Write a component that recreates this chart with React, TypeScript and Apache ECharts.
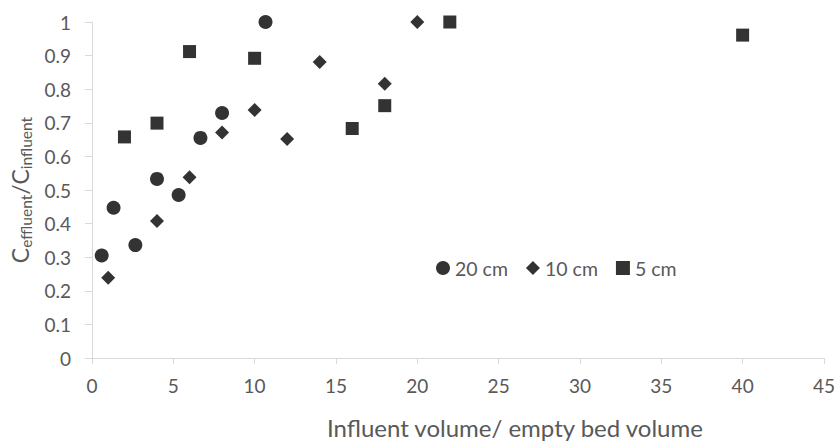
import React, { useEffect, useRef } from "react";
import * as echarts from "echarts";

const xTicks = [0, 5, 10, 15, 20, 25, 30, 35, 40, 45];
const yTicks = [0, 0.1, 0.2, 0.3, 0.4, 0.5, 0.6, 0.7, 0.8, 0.9, 1];

const seriesNames = ["20 cm", "10 cm", "5 cm"];

const x20 = [0.6, 1.33, 2.67, 4.0, 5.33, 6.67, 8.0, 10.67];
const y20 = [0.305, 0.447, 0.336, 0.533, 0.485, 0.655, 0.729, 1.0];

const x10 = [1.0, 4.0, 6.0, 8.0, 10.0, 12.0, 14.0, 18.0, 20.0];
const y10 = [0.239, 0.408, 0.538, 0.671, 0.738, 0.652, 0.881, 0.816, 1.0];

const x5 = [2.0, 4.0, 6.0, 10.0, 16.0, 18.0, 22.0, 40.0];
const y5 = [0.658, 0.699, 0.912, 0.892, 0.683, 0.751, 1.0, 0.961];

const FONT = "Lato, 'Open Sans', sans-serif";
const GREY = "#595959";

export default function App() {
  const ref = useRef<HTMLDivElement>(null);
  useEffect(() => {
    if (!ref.current) return;
    const chart = echarts.init(ref.current, undefined, { renderer: "svg" });
    const pair = (xs: number[], ys: number[]) => xs.map((x, i) => [x, ys[i]]);
    chart.setOption({
      animation: false,
      backgroundColor: "#ffffff",
      textStyle: { fontFamily: FONT },
      grid: { left: 90, right: 12, top: 22, bottom: 80, containLabel: false },
      legend: {
        left: 431,
        top: 253,
        itemWidth: 14,
        itemHeight: 14,
        itemGap: 18,
        data: [
          { name: seriesNames[0], icon: "circle" },
          { name: seriesNames[1], icon: "diamond" },
          { name: seriesNames[2], icon: "rect" },
        ],
        textStyle: { color: GREY, fontSize: 19.5, fontFamily: FONT },
      },
      xAxis: {
        type: "value",
        min: xTicks[0],
        max: xTicks[xTicks.length - 1],
        interval: 5,
        splitLine: { show: false },
        axisLine: { show: true, onZero: false, lineStyle: { color: "#d9d9d9", width: 1 } },
        axisTick: { show: true, length: 6, lineStyle: { color: "#d9d9d9" } },
        axisLabel: { color: GREY, fontSize: 19, fontFamily: FONT, margin: 18 },
        name: "Influent volume/ empty bed volume",
        nameLocation: "middle",
        nameGap: 57,
        nameTextStyle: { color: GREY, fontSize: 24, fontFamily: FONT, padding: [0, 0, 0, 114] },
      },
      yAxis: {
        type: "value",
        min: yTicks[0],
        max: yTicks[yTicks.length - 1],
        interval: 0.1,
        splitLine: { show: false },
        axisLine: { show: true, lineStyle: { color: "#d9d9d9", width: 1 } },
        axisTick: { show: true, length: 7, lineStyle: { color: "#d9d9d9" } },
        axisLabel: {
          color: GREY,
          fontSize: 19,
          fontFamily: FONT,
          margin: 21,
          formatter: (v: number) => String(Math.round(v * 10) / 10),
        },
        name: "{c|C}{s|effluent}{c|/C}{s|influent}",
        nameLocation: "middle",
        nameGap: 58,
        nameTextStyle: {
          color: GREY,
          fontFamily: FONT,
          rich: {
            c: { fontSize: 23, color: GREY, fontFamily: FONT, lineHeight: 28, verticalAlign: "middle" },
            s: { fontSize: 15.5, color: GREY, fontFamily: FONT, lineHeight: 28, verticalAlign: "bottom" },
          },
        },
      },
      series: [
        {
          name: seriesNames[0],
          type: "scatter",
          symbol: "circle",
          symbolSize: 14,
          itemStyle: { color: "#000000" },
          data: pair(x20, y20),
        },
        {
          name: seriesNames[1],
          type: "scatter",
          symbol: "diamond",
          symbolSize: 14,
          itemStyle: { color: "#000000" },
          data: pair(x10, y10),
        },
        {
          name: seriesNames[2],
          type: "scatter",
          symbol: "rect",
          symbolSize: 13,
          itemStyle: { color: "#000000" },
          data: pair(x5, y5),
        },
      ],
    });
    return () => chart.dispose();
  }, []);
  return (
    <div
      ref={ref}
      style={{ position: "fixed", left: 0, top: 0, width: 838, height: 444, background: "#fff" }}
    />
  );
}
